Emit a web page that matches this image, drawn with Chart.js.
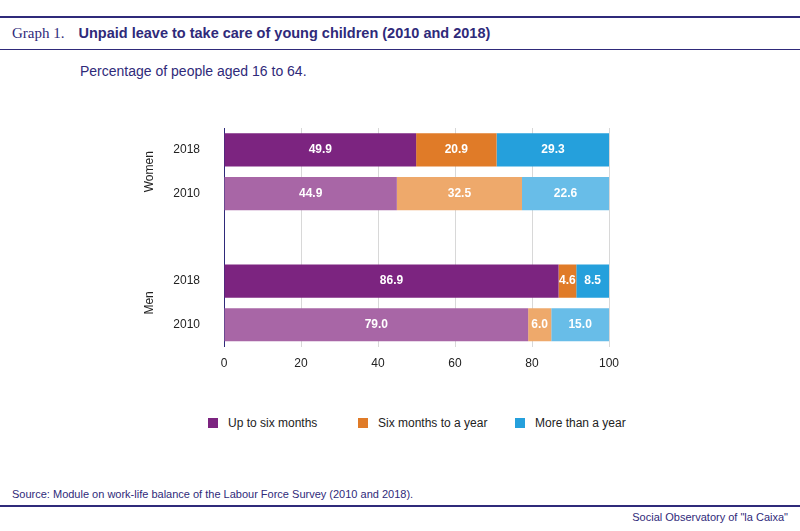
<!DOCTYPE html>
<html><head><meta charset="utf-8">
<script src="https://cdn.jsdelivr.net/npm/chart.js@4"></script>
<style>
body{margin:0;width:800px;height:531px;background:#fff;font-family:"Liberation Sans",Arial,sans-serif;position:relative;overflow:hidden}
.rule{position:absolute;left:0;width:800px;height:2px;background:#2f2a7a}
#title{position:absolute;left:12px;top:24px;font-size:15px;color:#2f2a7a}
#title span.n{font-family:"Liberation Serif",serif;margin-right:14px}
#title b{font-size:14.5px}
#sub{position:absolute;left:80px;top:63px;font-size:14px;color:#2f2a7a}
#wrap{position:absolute;left:0;top:100px;width:800px;height:290px}
#legend{position:absolute;top:416px;left:0;font-size:12px;color:#222}
#legend div{position:absolute;white-space:nowrap}
#legend i{display:inline-block;width:10px;height:10px;margin-right:10px;vertical-align:-1px}
#src{position:absolute;left:12px;top:488px;font-size:11px;color:#2f2a7a}
#foot{position:absolute;right:12px;top:511px;font-size:11px;color:#2f2a7a}
</style></head><body>
<div class="rule" style="top:16px"></div>
<div id="title"><span class="n">Graph 1.</span><b>Unpaid leave to take care of young children (2010 and 2018)</b></div>
<div class="rule" style="top:49px;height:1px"></div>
<div id="sub">Percentage of people aged 16 to 64.</div>
<div id="wrap"><canvas id="grafico"></canvas></div>
<div id="legend"></div>
<div id="src">Source: Module on work-life balance of the Labour Force Survey (2010 and 2018).</div>
<div class="rule" style="top:505px"></div>
<div id="foot">Social Observatory of "la Caixa"</div>
<script>
// DADOS
const categorias = ['2018', '2010', '', '2018', '2010']
const grupos = ['Women', 'Men']
const serieNomes = ['Up to six months', 'Six months to a year', 'More than a year']
const ateSeisMeses = [49.9, 44.9, null, 86.9, 79.0]
const seisMesesUmAno = [20.9, 32.5, null, 4.6, 6.0]
const maisUmAno = [29.3, 22.6, null, 8.5, 15.0]
const ticksX = [0, 20, 40, 60, 80, 100]

const coresFortes = ['#7c2480', '#e07b28', '#25a0dc']
const coresClaras = ['#a866a6', '#eea96b', '#68bde8']

function cores(i){
    return categorias.map((c, k) => (k === 0 || k === 3) ? coresFortes[i] : coresClaras[i])
}

const valores = [ateSeisMeses, seisMesesUmAno, maisUmAno]
const datasets = valores.map((v, i) => ({
    label: serieNomes[i],
    data: v,
    backgroundColor: cores(i),
    borderWidth: 0,
    barPercentage: 0.76,
    categoryPercentage: 1
}))

// rótulos dentro das barras e nomes dos grupos
const rotulos = {
    id: 'rotulos',
    afterDatasetsDraw(chart){
        const ctx = chart.ctx
        ctx.save()
        ctx.fillStyle = '#fff'
        ctx.font = 'bold 12px "Liberation Sans", Arial'
        ctx.textAlign = 'center'
        ctx.textBaseline = 'middle'
        chart.data.datasets.forEach((ds, i) => {
            chart.getDatasetMeta(i).data.forEach((bar, k) => {
                if(ds.data[k] == null) return
                ctx.fillText(ds.data[k].toFixed(1), (bar.x + bar.base) / 2, bar.y)
            })
        })
        const y = chart.scales.y
        ctx.fillStyle = '#222'
        ctx.font = '12px "Liberation Sans", Arial'
        ;[[0, 1], [3, 4]].forEach((par, g) => {
            const cy = (y.getPixelForValue(par[0]) + y.getPixelForValue(par[1])) / 2
            ctx.save()
            ctx.translate(150, cy)
            ctx.rotate(-Math.PI / 2)
            ctx.fillText(grupos[g], 0, 0)
            ctx.restore()
        })
        ctx.restore()
    }
}

new Chart(document.getElementById('grafico'), {
    type: 'bar',
    data: { labels: categorias, datasets: datasets },
    options: {
        indexAxis: 'y',
        responsive: true,
        maintainAspectRatio: false,
        animation: false,
        layout: { padding: { left: 150, right: 191, top: 28, bottom: 9 } },
        plugins: { legend: { display: false }, tooltip: { enabled: false } },
        scales: {
            x: {
                stacked: true, min: 0, max: 100,
                afterBuildTicks: s => { s.ticks = ticksX.map(v => ({ value: v })) },
                grid: { color: '#d8d8d8', drawTicks: false },
                border: { display: false },
                ticks: { color: '#222', padding: 10, font: { size: 12, family: '"Liberation Sans", Arial' } }
            },
            y: {
                stacked: true,
                afterFit: s => { s.width = 74 },
                grid: { display: false },
                border: { color: '#2f2a7a', width: 1 },
                ticks: { color: '#222', padding: 16, font: { size: 12, family: '"Liberation Sans", Arial' } }
            }
        }
    },
    plugins: [rotulos]
})

const posLegenda = [208, 358, 515]
document.getElementById('legend').innerHTML = serieNomes.map((n, i) =>
    `<div style="left:${posLegenda[i]}px"><i style="background:${coresFortes[i]}"></i>${n}</div>`).join('')
</script>
</body></html>
